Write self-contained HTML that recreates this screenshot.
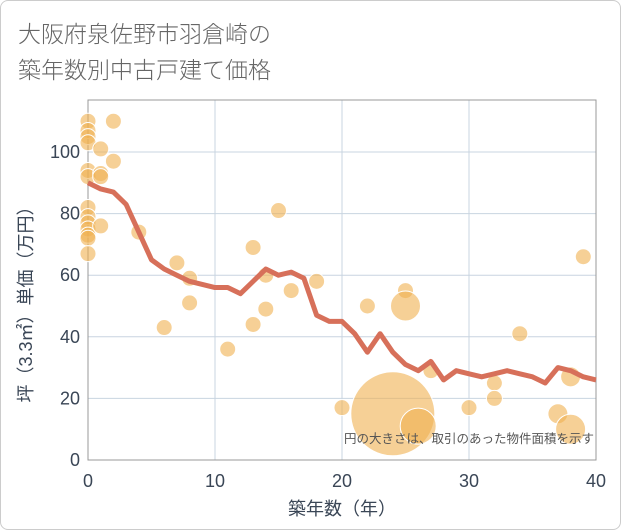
<!DOCTYPE html>
<html><head><meta charset="utf-8"><style>
body{margin:0;background:#fff;font-family:"Liberation Sans","Noto Sans CJK JP",sans-serif}
.card{position:absolute;left:0;top:0;width:619px;height:528px;border:1px solid #ccc;border-radius:8px;background:#fff}
.title{position:absolute;left:18px;top:14px;font-size:23px;color:#666;line-height:36px;font-family:"Noto Sans CJK JP",sans-serif;font-weight:300}
</style></head><body>
<div class="card"></div>
<div class="title">大阪府泉佐野市羽倉崎の<br>築年数別中古戸建て価格</div>
<svg id="c" width="621" height="530" style="position:absolute;left:0;top:0"></svg>
<script>
const bx=[0,0,0,0,0,0,0,0,0,0,0,0,0,1,1,1,1,2,2,4,6,7,8,8,11,13,13,14,14,15,16,18,20,22,24,25,25,26,27,30,32,32,34,37,38,38,39];
const by=[110,107,105,103,94,92,82,79,77,75,73,72,67,101,93,92,76,110,97,74,43,64,59,51,36,69,44,60,49,81,55,58,17,50,15,55,50,11,29,17,25,20,41,15,10,27,66];
const br=[8,8,8,8,8,8,8,8,8,8,8,8,8,8,8,8,8,8,8,8,8,8,8,8,8,8,8,8,8,8,8,8,8,8,42,8,15,18,8,8,8,8,8,10,15,10,8];
const lx=[0,1,2,3,4,5,6,7,8,9,10,11,12,13,14,15,16,17,18,19,20,21,22,23,24,25,26,27,28,29,30,31,32,33,34,35,36,37,38,39,40];
const ly=[90,88,87,83,74,65,62,60,58,57,56,56,54,58,62,60,61,59,47,45,45,41,35,41,35,31,29,32,26,29,28,27,28,29,28,27,25,30,29,27,26];
const xt=[0,10,20,30,40], yt=[0,20,40,60,80,100];
const L=88,R=596,T=100,B=460;
const X=v=>L+(v/40)*(R-L), Y=v=>B-v*3.08;
const s=document.getElementById('c'),NS='http://www.w3.org/2000/svg';
function mk(t,a,p){const e=document.createElementNS(NS,t);for(const k in a)e.setAttribute(k,a[k]);(p||s).appendChild(e);return e;}
for(const v of xt){const g=mk('line',{x1:X(v),x2:X(v),y1:T,y2:B,stroke:'#c8d4e0','stroke-width':1});

const t=mk('text',{x:X(v),y:B+27,'text-anchor':'middle','font-size':18,fill:'#3a4656'});t.textContent=v;
}
for(const v of yt){const g=mk('line',{x1:L,x2:R,y1:Y(v),y2:Y(v),stroke:'#c8d4e0','stroke-width':1});

const t=mk('text',{x:L-8,y:Y(v)+6,'text-anchor':'end','font-size':18,fill:'#3a4656'});t.textContent=v;
}
const fr=mk('rect',{x:L,y:T,width:R-L,height:B-T,fill:'none',stroke:'#999','stroke-width':1});

for(let i=0;i<bx.length;i++){const c=mk('circle',{cx:X(bx[i]),cy:Y(by[i]),r:br[i],fill:'#f0b050','fill-opacity':0.6,stroke:'#fff','stroke-width':1});
}
const pl=mk('polyline',{points:lx.map((v,i)=>X(v)+','+Y(ly[i])).join(' '),fill:'none',stroke:'#d7705a','stroke-width':5,'stroke-linejoin':'round'});

const n=mk('text',{x:R-2,y:443,'text-anchor':'end','font-size':12.5,fill:'#555'});n.textContent='円の大きさは、取引のあった物件面積を示す';

const xa=mk('text',{x:(L+R)/2,y:515,'text-anchor':'middle','font-size':18,fill:'#3a4656'});xa.textContent='築年数（年）';

const ya=mk('text',{x:0,y:0,'text-anchor':'middle','font-size':18,fill:'#3a4656',transform:`translate(32,${(T+B)/2+20}) rotate(-90)`});ya.textContent='坪（3.3㎡）単価（万円）';

</script>
</body></html>
